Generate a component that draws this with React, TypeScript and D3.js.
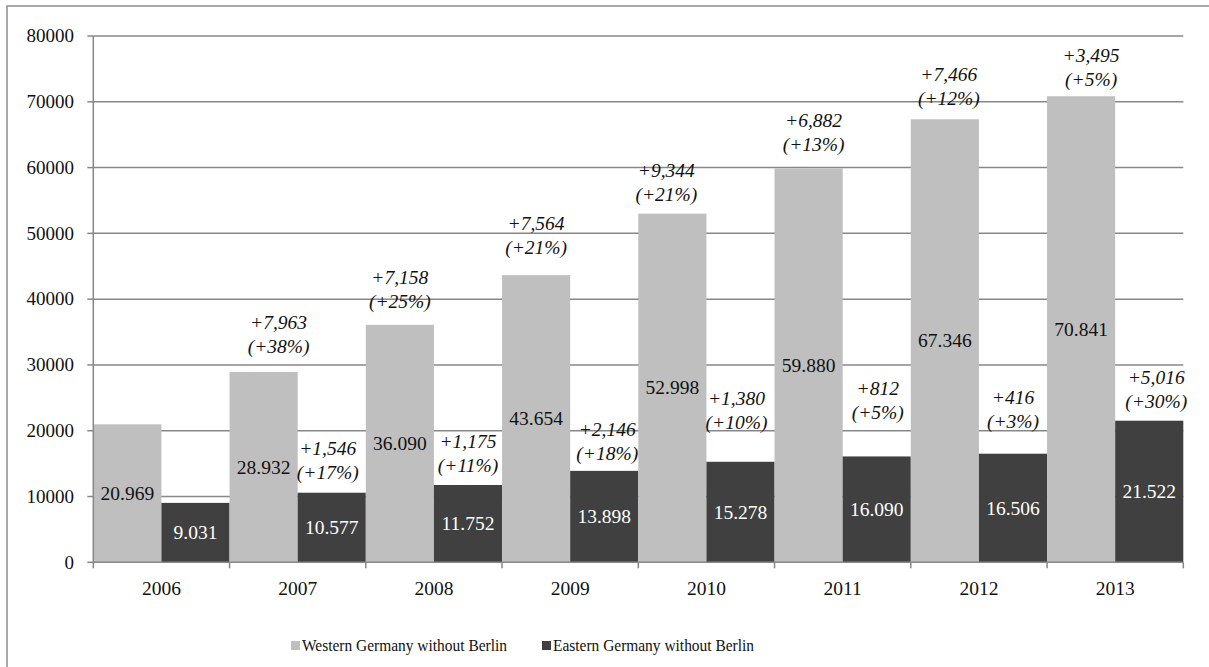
import React from "react";
import * as d3 from "d3";

// Number of students per year, by region
const years = ["2006", "2007", "2008", "2009", "2010", "2011", "2012", "2013"];
const westValues = [20969, 28932, 36090, 43654, 52998, 59880, 67346, 70841];
const eastValues = [9031, 10577, 11752, 13898, 15278, 16090, 16506, 21522];
const yTicks = [0, 10000, 20000, 30000, 40000, 50000, 60000, 70000, 80000];
const seriesNames = ["Western Germany without Berlin", "Eastern Germany without Berlin"];

// Hand-placed offsets for the year-on-year change notes: [dx, gap above bar top]
const westNoteLayout: [number, number][] = [
  [0, 0], [15, 25.6], [0, 23.3], [0, 27.5], [-6, 19], [5, 24], [4, 21], [10, 16.6],
];
const eastNoteLayout: [number, number][] = [
  [0, 0], [-4, 20.5], [0, 19], [3, 17], [-4, 39], [1, 44], [0, 32], [7, 19.3],
];

const W = 1209;
const H = 667;
const margin = { left: 93.3, right: 1183.3, top: 36, bottom: 562.3 };
const FONT = '"Liberation Serif"';
const WEST_COLOR = "#bfbfbf";
const EAST_COLOR = "#404040";
const GRID_COLOR = "#878787";
const INK = "#111";

const fmtValue = d3.formatLocale({ decimal: ",", thousands: ".", grouping: [3], currency: ["", ""] }).format(",d");
const fmtChange = d3.format("+,d");

const txt = (size: number, italic = false): React.CSSProperties => ({
  fontFamily: FONT,
  fontSize: size,
  fontStyle: italic ? "italic" : "normal",
});

export default function App() {
  const x = d3.scaleBand<string>().domain(years).range([margin.left, margin.right]).padding(0);
  const y = d3.scaleLinear().domain([0, 80000]).range([margin.bottom, margin.top]);
  const barW = x.bandwidth() / 2;

  const notes = (values: number[], layout: [number, number][], offset: number) =>
    values.map((v, i) => {
      if (i === 0) return null;
      const diff = v - values[i - 1];
      const pct = Math.round((diff / values[i - 1]) * 100);
      const cx = (x(years[i]) as number) + offset + barW / 2 + layout[i][0];
      const line2 = y(v) - layout[i][1];
      const line1 = line2 - 24;
      return (
        <g key={`n-${offset}-${i}`} fill={INK} textAnchor="middle">
          <text x={cx} y={line1 + 6.5} style={txt(19.5, true)}>{fmtChange(diff)}</text>
          <text x={cx} y={line2 + 6.5} style={txt(19.5, true)}>{`(+${pct}%)`}</text>
        </g>
      );
    });

  return (
    <svg width={W} height={H} style={{ position: "absolute", left: 0, top: 0, background: "#fff" }}>
      <rect x={7} y={6} width={W} height={H} fill="#fff" stroke="#8c8c8c" strokeWidth={1.5} />

      {/* horizontal gridlines */}
      {yTicks.slice(1).map((t) => (
        <line key={`g${t}`} x1={margin.left} x2={margin.right} y1={y(t)} y2={y(t)} stroke={GRID_COLOR} strokeWidth={1.5} />
      ))}

      {/* bars */}
      {years.map((yr, i) => (
        <g key={`b${yr}`}>
          <rect x={x(yr)} y={y(westValues[i])} width={barW} height={y(0) - y(westValues[i])} fill={WEST_COLOR} />
          <rect x={(x(yr) as number) + barW} y={y(eastValues[i])} width={barW} height={y(0) - y(eastValues[i])} fill={EAST_COLOR} />
        </g>
      ))}

      {/* y axis */}
      <line x1={margin.left} x2={margin.left} y1={margin.top} y2={margin.bottom} stroke={GRID_COLOR} strokeWidth={1.5} />
      {yTicks.map((t) => (
        <g key={`yt${t}`}>
          <line x1={margin.left - 6} x2={margin.left} y1={y(t)} y2={y(t)} stroke={GRID_COLOR} strokeWidth={1.5} />
          <text x={74} y={y(t) + 6.2} textAnchor="end" style={txt(19)} fill={INK}>{t}</text>
        </g>
      ))}

      {/* x axis */}
      <line x1={margin.left} x2={margin.right} y1={y(0)} y2={y(0)} stroke={GRID_COLOR} strokeWidth={1.5} />
      {[...years.map((yr) => x(yr) as number), margin.right].map((px, i) => (
        <line key={`xt${i}`} x1={px} x2={px} y1={y(0)} y2={y(0) + 6} stroke={GRID_COLOR} strokeWidth={1.5} />
      ))}
      {years.map((yr) => (
        <text key={`xl${yr}`} x={(x(yr) as number) + x.bandwidth() / 2} y={595} textAnchor="middle" style={txt(19.5)} fill={INK}>{yr}</text>
      ))}

      {/* value labels */}
      {years.map((yr, i) => (
        <g key={`v${yr}`} textAnchor="middle">
          <text x={(x(yr) as number) + barW / 2} y={(y(westValues[i]) + y(0)) / 2 + 6.5} style={txt(19.5)} fill={INK}>{fmtValue(westValues[i])}</text>
          <text x={(x(yr) as number) + barW * 1.5} y={(y(eastValues[i]) + y(0)) / 2 + 6.5} style={txt(19.5)} fill="#fff">{fmtValue(eastValues[i])}</text>
        </g>
      ))}

      {/* year-on-year change notes */}
      {notes(westValues, westNoteLayout, 0)}
      {notes(eastValues, eastNoteLayout, barW)}

      {/* legend */}
      <g fill={INK}>
        <rect x={291} y={641} width={9} height={9} fill={WEST_COLOR} />
        <text x={302} y={651} style={txt(17)} textLength={205} lengthAdjust="spacingAndGlyphs">{seriesNames[0]}</text>
        <rect x={542} y={641} width={9} height={9} fill={EAST_COLOR} />
        <text x={553} y={651} style={txt(17)} textLength={201} lengthAdjust="spacingAndGlyphs">{seriesNames[1]}</text>
      </g>
    </svg>
  );
}
